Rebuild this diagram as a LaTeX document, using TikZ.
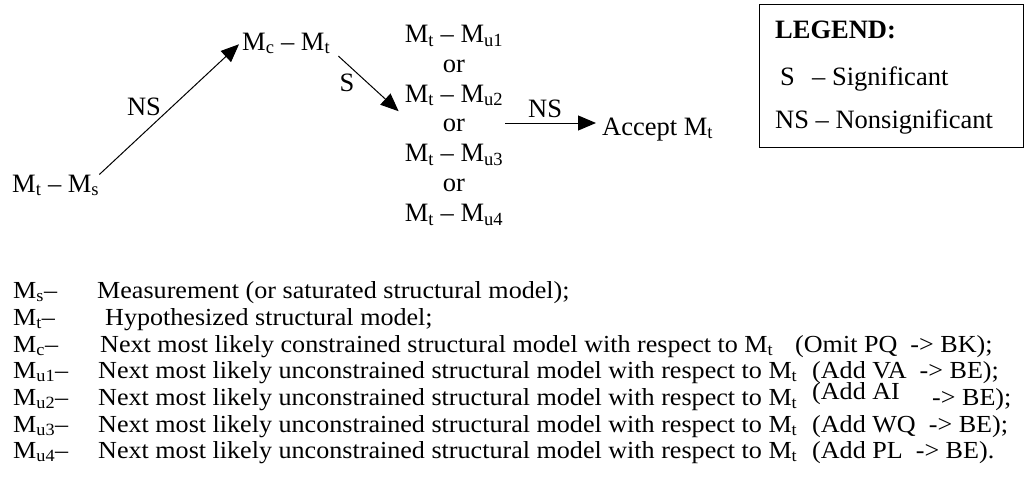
\documentclass[tikz,border=0pt]{standalone}
\usepackage{fontspec}
\setmainfont{Liberation Serif}
\newfontfamily\lstfont[Ligatures=TeX,FakeStretch=1.065]{Liberation Serif}
\usetikzlibrary{arrows.meta}
\newcommand{\Msb}[1]{M\textsubscript{#1}}
\tikzset{
  txt/.style={inner sep=0pt, anchor=base west},
  top/.style={font=\fontsize{26.5}{29.8}\selectfont},
  lst/.style={font=\lstfont\fontsize{24.5}{26.7}\selectfont},
  arr/.style={line width=1pt, -{Triangle[length=18pt,width=15pt]}},
}
\begin{document}
\begin{tikzpicture}[x=1pt,y=-1pt]
\useasboundingbox (0,0) rectangle (1034,482);
% top diagram
\node[txt,top] (ms) at (12,192) {\Msb{t} \textendash{} \Msb{s}};
\node[txt,top] (mc) at (242,50) {\Msb{c} \textendash{} \Msb{t}};
\node[top, align=center, inner sep=2pt, anchor=north] (stack) at (454,23)
  {\Msb{t} \textendash{} \Msb{u1}\\or\\\Msb{t} \textendash{} \Msb{u2}\\or\\\Msb{t} \textendash{} \Msb{u3}\\or\\\Msb{t} \textendash{} \Msb{u4}};
\node[txt,top] (acc) at (602,135) {Accept \Msb{t}};
\coordinate (nsend) at ([xshift=-6pt]acc.west |- 0,123);
\draw[arr] (ms.north east) -- ([xshift=-3pt,yshift=-1pt]mc.west);
\draw[arr] ([shift={(8pt,-2pt)}]mc.south east) -- ([xshift=-4pt,yshift=14pt]stack.west);
\draw[arr] (stack.east |- nsend) -- (nsend);
\node[top, inner sep=0pt] (ns1) at (144,107) {NS};
\node[top, inner sep=0pt] (s1) at (347,83) {S};
\node[txt, top] (ns2) at (528,117) {NS};
% legend
\node[draw, line width=1pt, minimum width=264pt, minimum height=143pt, anchor=north west, inner sep=0pt] (legend) at (759,4) {};
\node[txt,font=\fontsize{26.5}{29.8}\selectfont\bfseries] (lg) at (775,38) {LEGEND:};
\node[txt,top] (lgs) at (780,85) {S};
\node[txt,top] (lgsd) at (812,85) {\textendash{} Significant};
\node[txt,top] (lgns) at (775,128) {NS \textendash{} Nonsignificant};
% list
\node[txt,lst] (l1) at (13,298) {\Msb{s}\textendash};
\node[txt,lst] (d1) at (97,298) {Measurement (or saturated structural model);};
\node[txt,lst] (l2) at (13,325) {\Msb{t}\textendash};
\node[txt,lst] (d2) at (105,325) {Hypothesized structural model;};
\node[txt,lst] (l3) at (13,352) {\Msb{c}\textendash};
\node[txt,lst] (d3) at (100,352) {Next most likely constrained structural model with respect to \Msb{t}};
\node[txt,lst] (p3) at (795,352) {(Omit PQ \ -> BK);};
\node[txt,lst] (l4) at (13,378) {\Msb{u1}\textendash};
\node[txt,lst] (d4) at (98,378) {Next most likely unconstrained structural model with respect to \Msb{t}};
\node[txt,lst] (p4) at (812,378) {(Add VA \ -> BE);};
\node[txt,lst] (l5) at (13,405) {\Msb{u2}\textendash};
\node[txt,lst] (d5) at (98,405) {Next most likely unconstrained structural model with respect to \Msb{t}};
\node[txt,lst] (p5a) at (812,399) {(Add AI};
\node[txt,lst] (p5b) at (932,405) {-> BE);};
\node[txt,lst] (l6) at (13,432) {\Msb{u3}\textendash};
\node[txt,lst] (d6) at (98,432) {Next most likely unconstrained structural model with respect to \Msb{t}};
\node[txt,lst] (p6) at (812,432) {(Add WQ \ -> BE);};
\node[txt,lst] (l7) at (13,458) {\Msb{u4}\textendash};
\node[txt,lst] (d7) at (98,458) {Next most likely unconstrained structural model with respect to \Msb{t}};
\node[txt,lst] (p7) at (812,458) {(Add PL \ -> BE).};
\end{tikzpicture}
\end{document}
